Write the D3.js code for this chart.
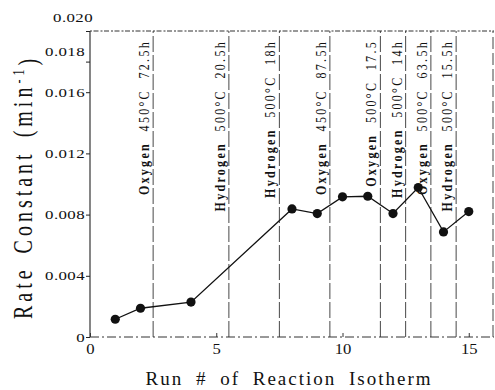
<!DOCTYPE html>
<html>
<head>
<meta charset="utf-8">
<script src="https://cdn.jsdelivr.net/npm/d3@7"></script>
<style>
  body { margin: 0; background: #fff; }
  svg { display: block; }
  text { font-family: "Liberation Serif", "Times New Roman", serif; }
</style>
</head>
<body>
<div id="root"></div>
<script>
// ---------------------------- DATA ----------------------------
const runs = [1, 2, 4, 8, 9, 10, 11, 12, 13, 14, 15];
const rateConstants = [0.00116, 0.00188, 0.00228, 0.00837, 0.00807, 0.00916, 0.0092, 0.00807, 0.00977, 0.00687, 0.0082];

// Treatment boundaries (dashed lines) and their labels
const boundaries = [2.5, 5.5, 7.5, 9.5, 11.5, 12.5, 13.5, 14.5];
const gases = ["Oxygen", "Hydrogen", "Hydrogen", "Oxygen", "Oxygen", "Hydrogen", "Oxygen", "Hydrogen"];
const treatments = ["450°C  72.5h", "500°C  20.5h", "500°C  18h", "450°C  87.5h", "500°C  17.5", "500°C  14h", "500°C  63.5h", "500°C  15.5h"];

const yTicks = [0, 0.004, 0.008, 0.012, 0.016, 0.018, 0.020];
const xTicks = [0, 5, 10, 15];

// ---------------------------- SETUP ----------------------------
const width = 495;
const height = 390;

const svg = d3.select("#root")
    .append("svg")
    .attr("width", width)
    .attr("height", height);

const x = d3.scaleLinear().domain([0, 16]).range([90, 494]);
const y = d3.scaleLinear().domain([0, 0.020]).range([337, 31]);

// ---------------------------- FRAME ----------------------------
// left side solid, the rest broken like the photocopy
svg.append("line")
    .attr("x1", x(0)).attr("x2", x(0))
    .attr("y1", y(0)).attr("y2", y(0.020))
    .attr("stroke", "#222").attr("stroke-width", 1.1);
svg.append("line")
    .attr("x1", x(0)).attr("x2", x(16))
    .attr("y1", y(0.020)).attr("y2", y(0.020))
    .attr("stroke", "#333").attr("stroke-width", 1)
    .attr("stroke-dasharray", "2,1.5,5,2");
svg.append("line")
    .attr("x1", x(0)).attr("x2", x(16))
    .attr("y1", y(0)).attr("y2", y(0))
    .attr("stroke", "#333").attr("stroke-width", 1)
    .attr("stroke-dasharray", "9,3,2,3");
svg.append("line")
    .attr("x1", x(16) - 1).attr("x2", x(16) - 1)
    .attr("y1", y(0)).attr("y2", y(0.020))
    .attr("stroke", "#444").attr("stroke-width", 1)
    .attr("stroke-dasharray", "12,4");

// ---------------------------- AXES ----------------------------
const stretch = 1.35; // the scan is wider than tall

const yAxis = svg.append("g")
    .attr("transform", "translate(" + x(0) + ",0)")
    .call(d3.axisLeft(y)
        .tickValues(yTicks)
        .tickSize(4)
        .tickPadding(1)
        .tickFormat(d => d === 0 ? "0" : d3.format(".3f")(d)));
yAxis.select(".domain").remove();
yAxis.selectAll(".tick line").attr("stroke", "#222");
yAxis.selectAll(".tick text")
    .attr("fill", "#111")
    .style("font-size", "12.5px")
    .style("letter-spacing", "0.3px")
    .attr("dy", d => d === 0.020 ? "-0.8em" : d === 0.018 ? "-0.5em" : "0.32em")
    .attr("x", d => (d === 0.020 ? 3 : -5) / stretch)
    .attr("transform", "scale(" + stretch + ",1)");

const xAxis = svg.append("g")
    .attr("transform", "translate(0," + y(0) + ")")
    .call(d3.axisBottom(x)
        .tickValues(xTicks)
        .tickSize(-4)
        .tickPadding(7)
        .tickFormat(d3.format("d")));
xAxis.select(".domain").remove();
xAxis.selectAll(".tick line").attr("stroke", "#333");
xAxis.selectAll(".tick text")
    .attr("fill", "#111")
    .style("font-size", "14.5px")
    .attr("transform", "scale(1.15,1)");

// Axis titles
svg.append("text")
    .attr("x", 289)
    .attr("y", 385)
    .attr("text-anchor", "middle")
    .style("font-size", "19px")
    .style("letter-spacing", "2px")
    .style("word-spacing", "6px")
    .attr("fill", "#111")
    .text("Run # of Reaction Isotherm");

const yTitle = svg.append("text")
    .attr("transform", "translate(32,187) scale(1.35,1) rotate(-90)")
    .attr("text-anchor", "middle")
    .style("font-size", "20px")
    .style("letter-spacing", "4px")
    .style("word-spacing", "4px")
    .attr("fill", "#111");
yTitle.append("tspan").text("Rate Constant (min");
yTitle.append("tspan").attr("dy", "-0.5em").style("font-size", "12px").text("-1");
yTitle.append("tspan").attr("dy", "0.5em").text(")");

// ---------------------------- BOUNDARIES ----------------------------
svg.append("g")
    .selectAll("line")
    .data(boundaries)
    .enter()
    .append("line")
    .attr("x1", d => x(d)).attr("x2", d => x(d))
    .attr("y1", y(0)).attr("y2", y(0.020))
    .attr("stroke", "#333")
    .attr("stroke-width", 0.9)
    .attr("stroke-dasharray", "16,3");

const labels = svg.append("g")
    .selectAll("text")
    .data(boundaries)
    .enter()
    .append("text")
    .attr("transform", d => "translate(" + (x(d) - 4) + ",40) scale(1.2,1) rotate(-90)")
    .attr("text-anchor", "end")
    .style("font-size", "12px")
    .style("letter-spacing", "2.3px")
    .style("white-space", "pre")
    .attr("fill", "#111");
labels.append("tspan")
    .style("font-weight", "bold")
    .text((d, i) => gases[i] + "  ");
labels.append("tspan")
    .text((d, i) => treatments[i]);

// ---------------------------- SERIES ----------------------------
const points = runs.map((r, i) => [r, rateConstants[i]]);

svg.append("path")
    .datum(points)
    .attr("fill", "none")
    .attr("stroke", "#111")
    .attr("stroke-width", 1.3)
    .attr("d", d3.line().x(d => x(d[0])).y(d => y(d[1])));

svg.append("g")
    .selectAll("circle")
    .data(points)
    .enter()
    .append("circle")
    .attr("cx", d => x(d[0]))
    .attr("cy", d => y(d[1]))
    .attr("r", 4.6)
    .attr("fill", "#111");
</script>
</body>
</html>
